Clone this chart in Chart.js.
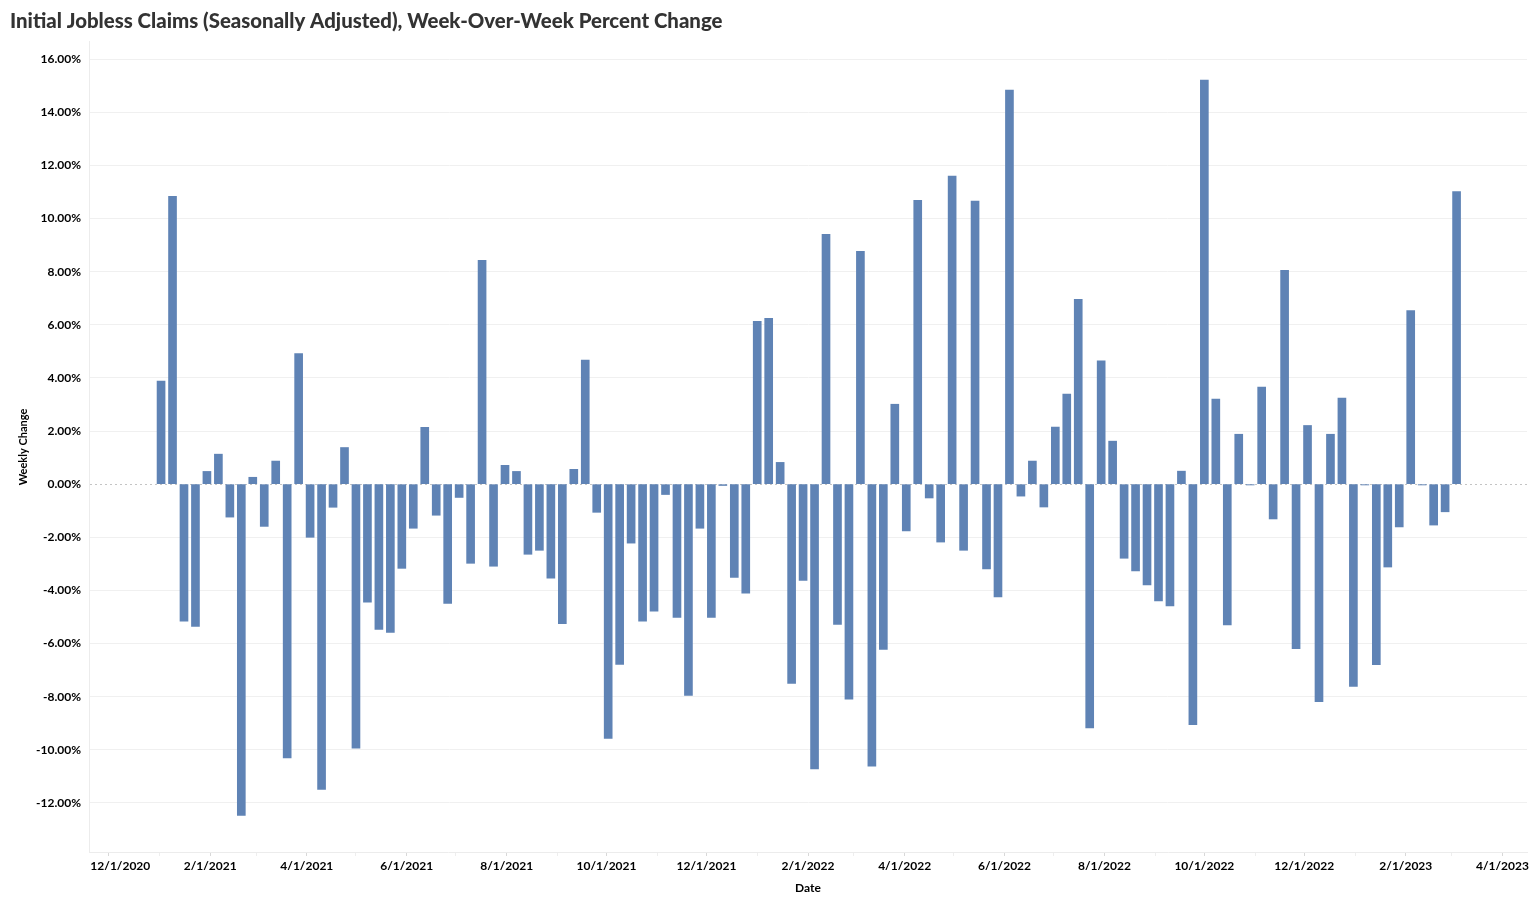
<!DOCTYPE html>
<html>
<head>
<meta charset="utf-8">
<title>Initial Jobless Claims</title>
<script src="https://cdn.jsdelivr.net/npm/chart.js@4.4.0/dist/chart.umd.min.js"></script>
<style>
  html, body { margin: 0; padding: 0; background: #fff; }
  #wrap { width: 1536px; height: 911px; }
</style>
</head>
<body>
<div id="wrap"><canvas id="claimsChart"></canvas></div>
<script>
// week ending dates (Saturday)
var weekEnding = [
  '2021-01-02','2021-01-09','2021-01-16','2021-01-23','2021-01-30',
  '2021-02-06','2021-02-13','2021-02-20','2021-02-27',
  '2021-03-06','2021-03-13','2021-03-20','2021-03-27',
  '2021-04-03','2021-04-10','2021-04-17','2021-04-24',
  '2021-05-01','2021-05-08','2021-05-15','2021-05-22','2021-05-29',
  '2021-06-05','2021-06-12','2021-06-19','2021-06-26',
  '2021-07-03','2021-07-10','2021-07-17','2021-07-24','2021-07-31',
  '2021-08-07','2021-08-14','2021-08-21','2021-08-28',
  '2021-09-04','2021-09-11','2021-09-18','2021-09-25',
  '2021-10-02','2021-10-09','2021-10-16','2021-10-23','2021-10-30',
  '2021-11-06','2021-11-13','2021-11-20','2021-11-27',
  '2021-12-04','2021-12-11','2021-12-18','2021-12-25',
  '2022-01-01','2022-01-08','2022-01-15','2022-01-22','2022-01-29',
  '2022-02-05','2022-02-12','2022-02-19','2022-02-26',
  '2022-03-05','2022-03-12','2022-03-19','2022-03-26',
  '2022-04-02','2022-04-09','2022-04-16','2022-04-23','2022-04-30',
  '2022-05-07','2022-05-14','2022-05-21','2022-05-28',
  '2022-06-04','2022-06-11','2022-06-18','2022-06-25',
  '2022-07-02','2022-07-09','2022-07-16','2022-07-23','2022-07-30',
  '2022-08-06','2022-08-13','2022-08-20','2022-08-27',
  '2022-09-03','2022-09-10','2022-09-17','2022-09-24',
  '2022-10-01','2022-10-08','2022-10-15','2022-10-22','2022-10-29',
  '2022-11-05','2022-11-12','2022-11-19','2022-11-26',
  '2022-12-03','2022-12-10','2022-12-17','2022-12-24','2022-12-31',
  '2023-01-07','2023-01-14','2023-01-21','2023-01-28',
  '2023-02-04','2023-02-11','2023-02-18','2023-02-25',
  '2023-03-04'
];

// week-over-week percent change
var weeklyChange = [
  3.88, 10.84, -5.16, -5.36, 0.48, 1.13, -1.24, -12.47, 0.26, -1.59,
  0.87, -10.31, 4.92, -2.00, -11.49, -0.87, 1.38, -9.94, -4.44, -5.47,
  -5.58, -3.17, -1.66, 2.14, -1.17, -4.49, -0.50, -2.98, 8.43, -3.09,
  0.71, 0.48, -2.64, -2.49, -3.54, -5.25, 0.56, 4.67, -1.06, -9.57,
  -6.79, -2.22, -5.16, -4.78, -0.39, -5.02, -7.95, -1.66, -5.02, -0.05,
  -3.51, -4.10, 6.13, 6.24, 0.82, -7.50, -3.62, -10.72, 9.41, -5.28,
  -8.10, 8.77, -10.62, -6.22, 3.01, -1.76, 10.69, -0.52, -2.18, 11.60,
  -2.49, 10.66, -3.19, -4.25, 14.84, -0.45, 0.87, -0.86, 2.15, 3.39,
  6.96, -9.18, 4.64, 1.62, -2.79, -3.27, -3.79, -4.40, -4.58, 0.49,
  -9.06, 15.22, 3.20, -5.30, 1.88, -0.03, 3.66, -1.31, 8.05, -6.19,
  2.21, -8.19, 1.88, 3.24, -7.62, -0.03, -6.80, -3.12, -1.61, 6.54,
  -0.03, -1.54, -1.04, 11.02
];

var xTickLabels = ['12/1/2020', '2/1/2021', '4/1/2021', '6/1/2021', '8/1/2021', '10/1/2021', '12/1/2021',
  '2/1/2022', '4/1/2022', '6/1/2022', '8/1/2022', '10/1/2022', '12/1/2022', '2/1/2023', '4/1/2023'];
var xMinorTicks = ['1/1/2021', '3/1/2021', '5/1/2021', '7/1/2021', '9/1/2021', '11/1/2021',
  '1/1/2022', '3/1/2022', '5/1/2022', '7/1/2022', '9/1/2022', '11/1/2022', '1/1/2023', '3/1/2023'];
var yTicks = [-12, -10, -8, -6, -4, -2, 0, 2, 4, 6, 8, 10, 12, 14, 16];

var xRange = ['2020-11-19', '2023-04-16'];
var yRange = [-13.85, 16.65];

function mdyToTime(s) {
    var p = s.split('/');
    return Date.UTC(parseInt(p[2]), parseInt(p[0]) - 1, parseInt(p[1]));
}

var points = weekEnding.map(function(d, i) {
    return { x: Date.parse(d), y: weeklyChange[i] };
});

// major ticks carry a label, minor ticks only a small mark
var xTicks = xTickLabels.map(function(l) { return { value: mdyToTime(l), text: l }; })
    .concat(xMinorTicks.map(function(l) { return { value: mdyToTime(l), text: '' }; }))
    .sort(function(a, b) { return a.value - b.value; });

var tickFont = { family: 'Lato', size: 12, weight: 'bold' };
var lightLine = '#ececec';

var ctx = document.getElementById('claimsChart').getContext('2d');
new Chart(ctx, {
    type: 'bar',
    data: {
        datasets: [{
            label: 'Weekly Change',
            data: points,
            backgroundColor: '#5f83b5',
            barThickness: 8
        }]
    },
    options: {
        responsive: true,
        maintainAspectRatio: false,
        animation: false,
        layout: { padding: { left: 10, right: 9, top: 0, bottom: 0 } },
        plugins: {
            legend: { display: false },
            title: {
                display: true,
                text: 'Initial Jobless Claims (Seasonally Adjusted), Week-Over-Week Percent Change',
                align: 'start',
                color: '#333333',
                font: { family: 'Lato', size: 20.4, weight: '900', lineHeight: 1.2 },
                padding: { top: 9.5, bottom: 8 }
            },
            tooltip: {
                callbacks: {
                    label: function(item) { return item.parsed.y.toFixed(2) + '%'; }
                }
            }
        },
        scales: {
            x: {
                type: 'linear',
                offset: false,
                min: Date.parse(xRange[0]),
                max: Date.parse(xRange[1]),
                afterBuildTicks: function(scale) {
                    scale.ticks = xTicks.map(function(t) { return { value: t.value }; });
                },
                afterFit: function(scale) { scale.height = 59; },
                ticks: {
                    autoSkip: false,
                    maxRotation: 0,
                    color: '#000',
                    font: tickFont,
                    padding: 3,
                    callback: function(value, index) {
                        var t = xTicks[index].text;
                        // first label sits inside the plot edge, as in the original
                        return index === 0 ? '        ' + t : t;
                    }
                },
                grid: {
                    offset: false,
                    drawOnChartArea: false,
                    drawTicks: true,
                    tickLength: 4,
                    tickColor: function(c) {
                        return c.index !== undefined && xTicks[c.index] && xTicks[c.index].text === '' ? '#eeeeee' : '#d8d8d8';
                    }
                },
                border: { display: true, color: lightLine },
                title: {
                    display: true,
                    text: 'Date',
                    color: '#000',
                    font: { family: 'Lato', size: 12, weight: 'bold' },
                    padding: { top: 0, bottom: 16 }
                }
            },
            y: {
                min: yRange[0],
                max: yRange[1],
                afterBuildTicks: function(scale) {
                    scale.ticks = yTicks.map(function(v) { return { value: v }; });
                },
                afterFit: function(scale) { scale.width = 79; },
                ticks: {
                    color: '#000',
                    font: tickFont,
                    padding: 8,
                    callback: function(value) { return value.toFixed(2) + '%'; }
                },
                grid: {
                    drawTicks: false,
                    lineWidth: 1,
                    color: function(c) {
                        return c.tick && c.tick.value === 0 ? '#c4c4c4' : '#f0f0f0';
                    }
                },
                border: {
                    display: true,
                    color: lightLine,
                    dash: function(c) {
                        return c.tick && c.tick.value === 0 ? [2, 3] : [];
                    }
                },
                title: {
                    display: true,
                    text: 'Weekly Change',
                    color: '#000',
                    font: { family: 'Lato', size: 11, weight: 'bold' },
                    padding: { top: 7, bottom: 0 }
                }
            }
        }
    }
});
</script>
</body>
</html>
